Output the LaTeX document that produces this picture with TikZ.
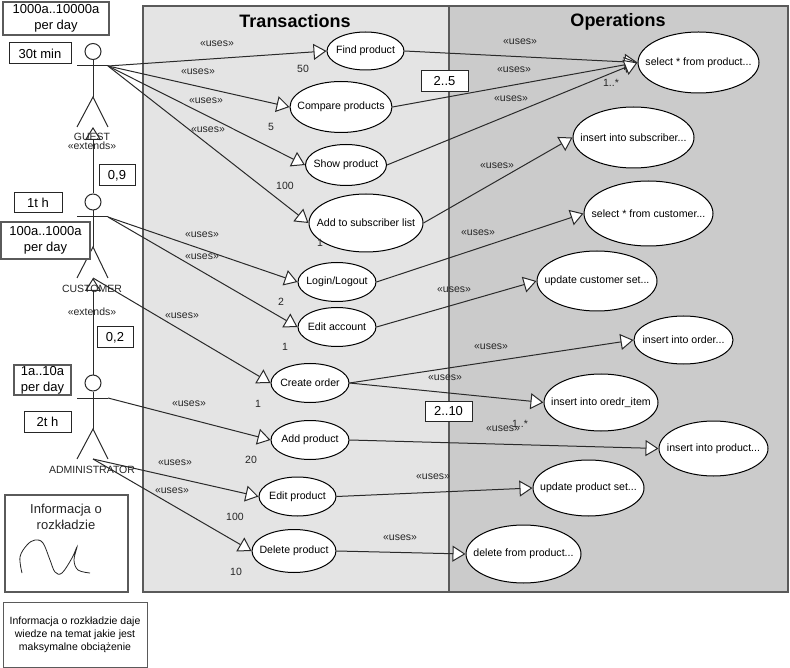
\documentclass[tikz,border=0pt]{standalone}
\usepackage{fontspec}
\setmainfont{Liberation Sans}
\usepackage{xcolor}
\usetikzlibrary{arrows.meta,positioning,shapes.geometric}
\definecolor{txpanel}{HTML}{E4E4E4}
\definecolor{oppanel}{HTML}{CBCBCB}
\definecolor{edgeline}{HTML}{2A2A2A}
\definecolor{boxline}{HTML}{5A5A5A}

\begin{document}
\begin{tikzpicture}[x = 1pt, y = -1pt, line width = 1pt, >={Triangle[fill = white, length = 13pt, width = 16pt]},
	panel/.style = {draw = boxline, line width = 1.3pt},
	usecase/.style = {ellipse, draw = black, fill = white, inner sep = -12pt, font = \fontsize{10.6}{12.5}\selectfont},
	actorhead/.style = {circle, draw = edgeline, fill = white, minimum size = 16pt, inner sep = 0pt},
	lbl/.style = {inner sep = 0pt, text = black!85, font = \fontsize{10.5}{12.5}\selectfont},
	bigbox/.style = {draw = boxline, fill = white, line width = 1.3pt, align = center, inner sep = 0pt, font = \fontsize{13}{16}\selectfont},
	smallbox/.style = {draw = black!85, fill = white, align = center, inner sep = 0pt, font = \fontsize{13}{16}\selectfont},
	uses/.style = {->, edgeline},
	extend/.style = {->, edgeline}]
	\useasboundingbox (0,0) rectangle (790,668);

	% panels
	\draw[panel, fill = txpanel] (143,6) rectangle (449,592);
	\draw[panel, fill = oppanel] (449,6) rectangle (788,592);
	\node[inner sep = 0pt, font = \fontsize{18}{20}\selectfont\bfseries](transactions) at (295,21.5){Transactions};
	\node[inner sep = 0pt, font = \fontsize{18}{20}\selectfont\bfseries](operations) at (618,21.5){Operations};

	% actors
	\node[actorhead](guest) at (93,51.5){};
	\coordinate (guesthip) at (93,97);
	\coordinate (guestleft) at (77,66);
	\coordinate (guestright) at (108,66);
	\coordinate (guestlfoot) at (77,127);
	\coordinate (guestrfoot) at (108,127);
	\coordinate (guesttip) at (93,127);
	\node[actorhead](customer) at (93,202){};
	\coordinate (customerhip) at (93,247);
	\coordinate (customerleft) at (77,217);
	\coordinate (customerright) at (108,217);
	\coordinate (customerlfoot) at (77,278);
	\coordinate (customerrfoot) at (108,278);
	\coordinate (customertip) at (93,278);
	\node[actorhead](admin) at (93,383){};
	\coordinate (adminhip) at (93,429);
	\coordinate (adminleft) at (77,398);
	\coordinate (adminright) at (108,398);
	\coordinate (adminlfoot) at (77,459);
	\coordinate (adminrfoot) at (108,459);
	\coordinate (admintip) at (93,459);

	\draw[edgeline] (guest) -- (guesthip);
	\draw[edgeline] (guestleft) -- (guestright);
	\draw[edgeline] (guestlfoot) -- (guesthip) -- (guestrfoot);
	\draw[edgeline] (customer) -- (customerhip);
	\draw[edgeline] (customerleft) -- (customerright);
	\draw[edgeline] (customerlfoot) -- (customerhip) -- (customerrfoot);
	\draw[edgeline] (admin) -- (adminhip);
	\draw[edgeline] (adminleft) -- (adminright);
	\draw[edgeline] (adminlfoot) -- (adminhip) -- (adminrfoot);

	% transactions
	\node[usecase, minimum width = 77pt, minimum height = 38pt](find) at (365.5,51){Find product};
	\node[usecase, minimum width = 102pt, minimum height = 51pt](compare) at (341,107){Compare products};
	\node[usecase, minimum width = 81pt, minimum height = 41pt](show) at (346,165){Show product};
	\node[usecase, minimum width = 114pt, minimum height = 58pt](add) at (366,223){Add to subscriber list};
	\node[usecase, minimum width = 78pt, minimum height = 39pt](login) at (337,282){Login/Logout};
	\node[usecase, minimum width = 78pt, minimum height = 39pt](editacc) at (337,327){Edit account};
	\node[usecase, minimum width = 78pt, minimum height = 39pt](create) at (310,383){Create order};
	\node[usecase, minimum width = 78pt, minimum height = 39pt](addprod) at (310,440){Add product};
	\node[usecase, minimum width = 77pt, minimum height = 39pt](editprod) at (297.5,496.5){Edit product};
	\node[usecase, minimum width = 84pt, minimum height = 43pt](delprod) at (294,551){Delete product};

	% operations
	\node[usecase, minimum width = 121pt, minimum height = 61pt](selprod) at (698.5,62.5){select * from product...};
	\node[usecase, minimum width = 121pt, minimum height = 61pt](inssub) at (633.5,137.5){insert into subscriber...};
	\node[usecase, minimum width = 129pt, minimum height = 65pt](selcust) at (648.5,213.5){select * from customer...};
	\node[usecase, minimum width = 120pt, minimum height = 60pt](updcust) at (597,281){update customer set...};
	\node[usecase, minimum width = 99pt, minimum height = 48pt](insorder) at (683.5,340){insert into order...};
	\node[usecase, minimum width = 114pt, minimum height = 57pt](insitem) at (601,402.5){insert into oredr\_item};
	\node[usecase, minimum width = 109pt, minimum height = 55pt](insprod) at (713.5,448.5){insert into product...};
	\node[usecase, minimum width = 111pt, minimum height = 56pt](updprod) at (588.5,488){update product set...};
	\node[usecase, minimum width = 115pt, minimum height = 58pt](delop) at (523.5,554){delete from product...};

	\path[extend](customer) edge (guesttip);
	\path[extend](admin) edge (customertip);

	\path[uses](guestright) edge (find.west);
	\path[uses](guestright) edge (compare.west);
	\path[uses](guestright) edge (show.west);
	\path[uses](guestright) edge (add.west);
	\path[uses](customerright) edge (login.west);
	\path[uses](customerright) edge (editacc.west);
	\path[uses](customertip) edge (create.west);
	\path[uses](adminright) edge (addprod.west);
	\path[uses](admintip) edge (editprod.west);
	\path[uses](admintip) edge (delprod.west);

	\path[uses](find.east) edge (selprod.west);
	\path[uses](compare.east) edge (selprod.west);
	\path[uses](show.east) edge (selprod.west);
	\path[uses](add.east) edge (inssub.west);
	\path[uses](login.east) edge (selcust.west);
	\path[uses](editacc.east) edge (updcust.west);
	\path[uses](create.east) edge (insorder.west);
	\path[uses](create.east) edge (insitem.west);
	\path[uses](addprod.east) edge (insprod.west);
	\path[uses](editprod.east) edge (updprod.west);
	\path[uses](delprod.east) edge (delop.west);

	% boxes
	\node[bigbox, minimum width = 106pt, minimum height = 33pt](guestload) at (56,18.5){1000a..10000a\\per day};
	\node[smallbox, minimum width = 62pt, minimum height = 21pt](guesttime) at (40,53.5){30t min};
	\node[smallbox, minimum width = 36pt, minimum height = 21pt](guestfrac) at (117,175.5){0,9};
	\node[smallbox, minimum width = 48pt, minimum height = 20pt](customertime) at (38,203){1t h};
	\node[bigbox, minimum width = 89pt, minimum height = 37pt](customerload) at (45.5,240.5){100a..1000a\\per day};
	\node[smallbox, minimum width = 36pt, minimum height = 21pt](customerfrac) at (115,337.5){0,2};
	\node[bigbox, minimum width = 57pt, minimum height = 30pt](adminload) at (42.5,380){1a..10a\\per day};
	\node[smallbox, minimum width = 47pt, minimum height = 21pt](admintime) at (47.5,421.5){2t h};
	\node[smallbox, minimum width = 47pt, minimum height = 21pt](selfrac) at (444.5,81.5){2..5};
	\node[smallbox, minimum width = 47pt, minimum height = 20pt](itemfrac) at (448.5,411){2..10};

	\draw[panel, fill = white] (5,495) rectangle (128,592);
	\node[inner sep = 0pt, align = center, text = black!85, font = \fontsize{13}{16}\selectfont](infotitle) at (66,517){Informacja o\\rozkładzie};
	\draw[black!85, line width = 0.8pt] plot[smooth, tension = 0.6] coordinates {(22,573) (20,557) (27,545) (35,540) (43,543) (50,560) (55,572) (62,573) (72,558) (77,547) (74,560) (78,570) (90,573)};
	\node[draw = boxline, fill = white, line width = 1pt, minimum width = 144pt, minimum height = 65pt, inner sep = 0pt, align = center, font = \fontsize{10.5}{13}\selectfont](infonote) at (75,634.5){Informacja o rozkładzie daje\\wiedze na temat jakie jest\\maksymalne obciążenie};

	% actor names
	\node[lbl](guestname) at (92,137){GUEST};
	\node[lbl](customername) at (92,289){CUSTOMER};
	\node[lbl](adminname) at (92,470){ADMINISTRATOR};
	\node[lbl](ext1) at (92,146){«extends»};
	\node[lbl](ext2) at (92,312){«extends»};

	% uses labels
	\node[lbl](u1) at (217,44){«uses»};
	\node[lbl](u2) at (198,72){«uses»};
	\node[lbl](u3) at (206,101){«uses»};
	\node[lbl](u4) at (208,130){«uses»};
	\node[lbl](u5) at (202,235){«uses»};
	\node[lbl](u6) at (202,257){«uses»};
	\node[lbl](u7) at (182,316){«uses»};
	\node[lbl](u8) at (189,404){«uses»};
	\node[lbl](u9) at (175,463){«uses»};
	\node[lbl](u10) at (172,491){«uses»};
	\node[lbl](u11) at (520,42){«uses»};
	\node[lbl](u12) at (514,70){«uses»};
	\node[lbl](u13) at (511,99){«uses»};
	\node[lbl](u14) at (497,166){«uses»};
	\node[lbl](u15) at (478,233){«uses»};
	\node[lbl](u16) at (454,290){«uses»};
	\node[lbl](u17) at (491,347){«uses»};
	\node[lbl](u18) at (445,378){«uses»};
	\node[lbl](u19) at (503,429){«uses»};
	\node[lbl](u20) at (433,477){«uses»};
	\node[lbl](u21) at (400,538){«uses»};

	% multiplicities
	\node[lbl](n1) at (303,69){50};
	\node[lbl](n2) at (271,127){5};
	\node[lbl](n3) at (285,186){100};
	\node[lbl](n4) at (320,243){1};
	\node[lbl](n5) at (281,302){2};
	\node[lbl](n6) at (285,347){1};
	\node[lbl](n7) at (258,404){1};
	\node[lbl](n8) at (251,460){20};
	\node[lbl](n9) at (235,517){100};
	\node[lbl](n10) at (236,572){10};
	\node[lbl](n11) at (611,83){1..*};
	\node[lbl](n12) at (520,424){1..*};
\end{tikzpicture}
\end{document}
